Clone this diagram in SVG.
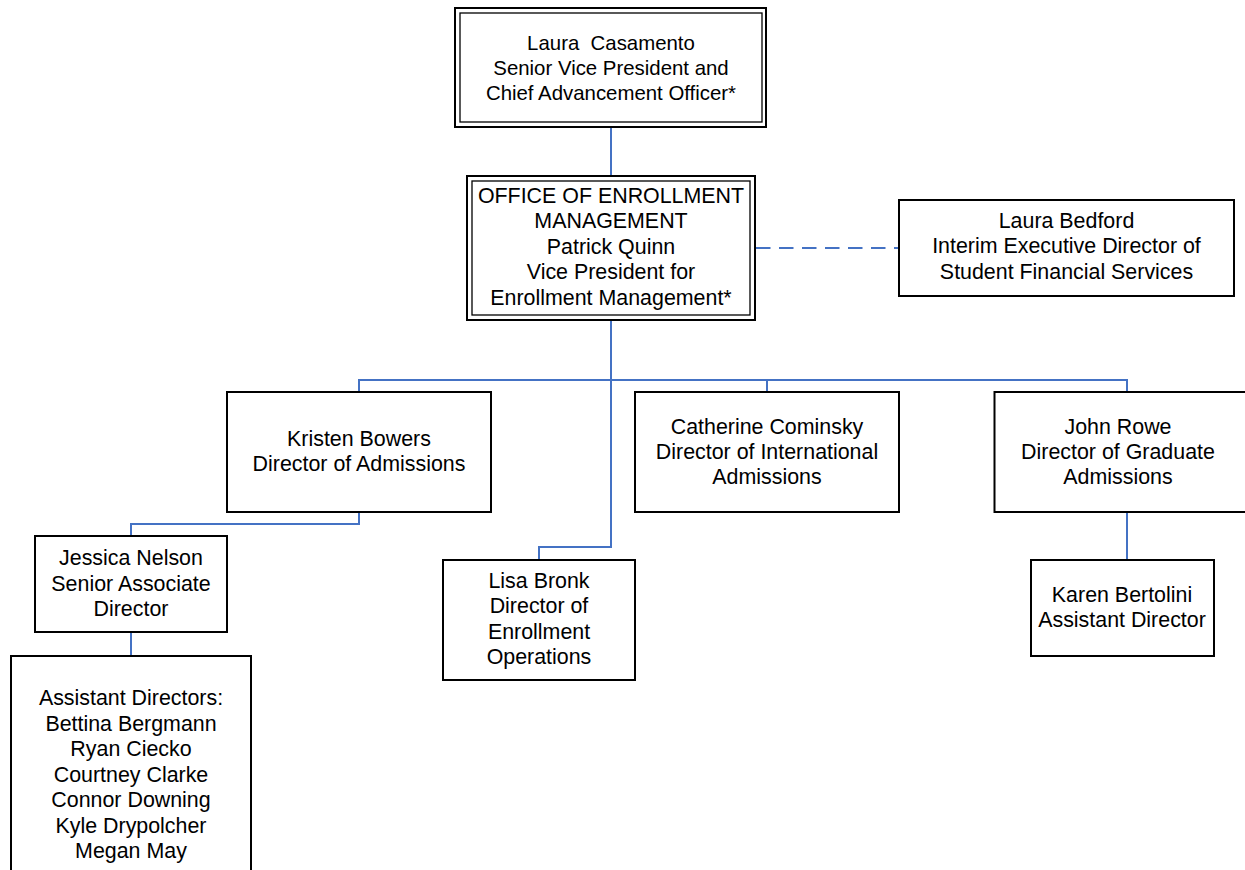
<svg xmlns="http://www.w3.org/2000/svg" width="1245" height="870" viewBox="0 0 1245 870">
<style>
.box{fill:#fff;stroke:#000;stroke-width:2}
.inner{fill:none;stroke:#000;stroke-width:1.3}
.t{font-family:"Liberation Sans",Arial,sans-serif;font-size:21.4px;fill:#000;text-anchor:middle}
.s{font-size:20.4px}
.c{fill:none;stroke:#4472C4;stroke-width:2}
.d{fill:none;stroke:#4472C4;stroke-width:2;stroke-dasharray:14.5 8.5}
</style>
<rect width="1245" height="870" fill="#fff"/>
<g id="connectors">
<path class="c" d="M611 127V176"/>
<path class="d" d="M756 248H899"/>
<path class="c" d="M611 320V547H539V560"/>
<path class="c" d="M359 392V380H1127V392"/>
<path class="c" d="M767 380V392"/>
<path class="c" d="M359 512V524H131V536"/>
<path class="c" d="M131 632V656"/>
<path class="c" d="M1127 512V560"/>
</g>
<g id="casamento">
<rect class="box" x="455" y="8" width="311" height="119"/>
<rect class="inner" x="460" y="13" width="302" height="109"/>
<text class="t s" x="611" y="49.5" xml:space="preserve">Laura  Casamento</text>
<text class="t s" x="611" y="74.5">Senior Vice President and</text>
<text class="t s" x="611" y="99.5">Chief Advancement Officer*</text>
</g>
<g id="oem">
<rect class="box" x="467" y="176" width="288" height="144"/>
<rect class="inner" x="472" y="181" width="278" height="134"/>
<text class="t" x="611" y="202.5">OFFICE OF ENROLLMENT</text>
<text class="t" x="611" y="228">MANAGEMENT</text>
<text class="t" x="611" y="253.5">Patrick Quinn</text>
<text class="t" x="611" y="279">Vice President for</text>
<text class="t" x="611" y="304.5">Enrollment Management*</text>
</g>
<g id="bedford">
<rect class="box" x="899" y="200" width="335" height="96"/>
<text class="t" x="1066.5" y="228">Laura Bedford</text>
<text class="t" x="1066.5" y="253">Interim Executive Director of</text>
<text class="t" x="1066.5" y="278.5">Student Financial Services</text>
</g>
<g id="bowers">
<rect class="box" x="227" y="392" width="264" height="120"/>
<text class="t" x="359" y="446">Kristen Bowers</text>
<text class="t" x="359" y="471">Director of Admissions</text>
</g>
<g id="cominsky">
<rect class="box" x="635" y="392" width="264" height="120"/>
<text class="t" x="767" y="433.5">Catherine Cominsky</text>
<text class="t" x="767" y="458.5">Director of International</text>
<text class="t" x="767" y="484">Admissions</text>
</g>
<g id="rowe">
<rect class="box" x="994.5" y="392" width="260" height="120"/>
<text class="t" x="1118" y="433.5">John Rowe</text>
<text class="t" x="1118" y="458.5">Director of Graduate</text>
<text class="t" x="1118" y="484">Admissions</text>
</g>
<g id="nelson">
<rect class="box" x="35" y="536" width="192" height="96"/>
<text class="t" x="131" y="565">Jessica Nelson</text>
<text class="t" x="131" y="590.5">Senior Associate</text>
<text class="t" x="131" y="616">Director</text>
</g>
<g id="bronk">
<rect class="box" x="443" y="560" width="192" height="120"/>
<text class="t" x="539" y="587.5">Lisa Bronk</text>
<text class="t" x="539" y="613">Director of</text>
<text class="t" x="539" y="638.5">Enrollment</text>
<text class="t" x="539" y="664">Operations</text>
</g>
<g id="bertolini">
<rect class="box" x="1031" y="560" width="183" height="96"/>
<text class="t" x="1122" y="602">Karen Bertolini</text>
<text class="t" x="1122" y="627">Assistant Director</text>
</g>
<g id="assistants">
<rect class="box" x="11" y="656" width="240" height="230"/>
<text class="t" x="131" y="705">Assistant Directors:</text>
<text class="t" x="131" y="730.5">Bettina Bergmann</text>
<text class="t" x="131" y="756">Ryan Ciecko</text>
<text class="t" x="131" y="781.5">Courtney Clarke</text>
<text class="t" x="131" y="807">Connor Downing</text>
<text class="t" x="131" y="832.5">Kyle Drypolcher</text>
<text class="t" x="131" y="858">Megan May</text>
</g>
</svg>
